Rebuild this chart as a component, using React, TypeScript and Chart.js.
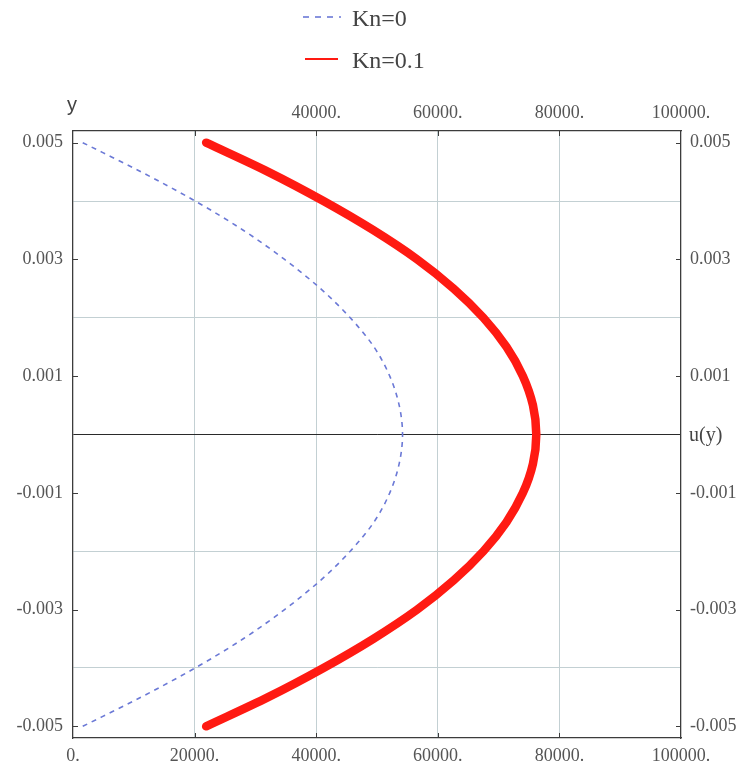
import React, { useEffect, useRef } from "react";
import { Chart, registerables } from "chart.js";

Chart.register(...registerables);

// ---- data ----
const yValues = [
  0.005, 0.0045, 0.004, 0.0035, 0.003, 0.0025, 0.002, 0.0015, 0.001, 0.0005, 0,
  -0.0005, -0.001, -0.0015, -0.002, -0.0025, -0.003, -0.0035, -0.004, -0.0045, -0.005,
];
const uKn0 = [
  1600, 11200, 20100, 28000, 34800, 40700, 45600, 49500, 52100, 53650, 54200,
  53650, 52100, 49500, 45600, 40700, 34800, 28000, 20100, 11200, 1600,
];
const uKn01 = [
  21900, 32100, 41200, 49400, 56600, 62600, 67500, 71300, 74000, 75650, 76200,
  75650, 74000, 71300, 67500, 62600, 56600, 49400, 41200, 32100, 21900,
];
const seriesLabels = ["Kn=0", "Kn=0.1"];

const xTicks = [0, 20000, 40000, 60000, 80000, 100000];
const xBottomLabels = ["0.", "20000.", "40000.", "60000.", "80000.", "100000."];
const xTopLabels = ["", "", "40000.", "60000.", "80000.", "100000."];

const yTicks = [-0.005, -0.004, -0.003, -0.002, -0.001, 0, 0.001, 0.002, 0.003, 0.004, 0.005];
const yTickLabels = ["-0.005", "", "-0.003", "", "-0.001", "", "0.001", "", "0.003", "", "0.005"];

const xTitle = "u(y)";
const yTitle = "y";

// ---- styles ----
const BLUE = "#6b79d6";
const RED = "#ff1a12";
const GRID = "#c3d0d3";
const FRAME = "#3c3c3c";
const TICK_FONT = { family: "'Liberation Serif', serif", size: 18 };
const TICK_COLOR = "#555";

const decorPlugin = {
  id: "decor",
  afterDraw(chart: any) {
    const { ctx, chartArea: a, scales } = chart;
    ctx.save();
    const line = (x1: number, y1: number, x2: number, y2: number) => {
      ctx.beginPath();
      ctx.moveTo(x1, y1);
      ctx.lineTo(x2, y2);
      ctx.stroke();
    };
    // inward tick marks
    ctx.strokeStyle = FRAME;
    ctx.lineWidth = 1;
    yTicks.forEach((v, i) => {
      if (!yTickLabels[i]) return;
      const py = Math.round(scales.y.getPixelForValue(v)) + 0.5;
      line(a.left, py, a.left + 5, py);
      line(a.right, py, a.right - 5, py);
    });
    xTicks.forEach((v, i) => {
      if (i === 0 || i === xTicks.length - 1) return;
      const px = Math.round(scales.x.getPixelForValue(v)) + 0.5;
      line(px, a.bottom, px, a.bottom - 5);
      line(px, a.top, px, a.top + 5);
    });

    // axis titles
    ctx.fillStyle = "#444";
    ctx.font = "20px 'Liberation Sans', sans-serif";
    ctx.textAlign = "center";
    ctx.textBaseline = "alphabetic";
    ctx.fillText(yTitle, a.left - 1, 111);
    ctx.font = "20px 'Liberation Serif', serif";
    ctx.textAlign = "left";
    ctx.textBaseline = "middle";
    ctx.fillText(xTitle, a.right + 8, scales.y.getPixelForValue(0) + 1);

    // legend
    ctx.lineWidth = 1.6;
    ctx.strokeStyle = BLUE;
    ctx.setLineDash([6, 6]);
    line(303, 17, 341, 17);
    ctx.setLineDash([]);
    ctx.strokeStyle = RED;
    ctx.lineWidth = 1.8;
    line(305, 59, 338, 59);
    ctx.fillStyle = "#444";
    ctx.font = "24px 'Liberation Serif', serif";
    ctx.textAlign = "left";
    ctx.textBaseline = "alphabetic";
    ctx.fillText(seriesLabels[0], 352, 26);
    ctx.fillText(seriesLabels[1], 352, 68);
    ctx.restore();
  },
};

export default function App() {
  const ref = useRef<HTMLCanvasElement>(null);
  useEffect(() => {
    if (!ref.current) return;
    const toPts = (us: number[]) => us.map((u, i) => ({ x: u, y: yValues[i] }));
    const chart = new Chart(ref.current, {
      type: "scatter",
      data: {
        datasets: [
          {
            label: seriesLabels[0],
            data: toPts(uKn0),
            showLine: true,
            indexAxis: "y",
            borderColor: BLUE,
            borderWidth: 1.6,
            borderDash: [5, 5],
            pointRadius: 0,
            cubicInterpolationMode: "monotone",
          },
          {
            label: seriesLabels[1],
            data: toPts(uKn01),
            showLine: true,
            indexAxis: "y",
            borderColor: RED,
            borderWidth: 8.5,
            borderCapStyle: "round",
            pointRadius: 0,
            cubicInterpolationMode: "monotone",
          },
        ],
      },
      options: {
        animation: false,
        responsive: false,
        layout: { padding: 0 },
        plugins: { legend: { display: false }, tooltip: { enabled: false } },
        scales: {
          x: {
            type: "linear",
            position: "bottom",
            min: 0,
            max: 100000,
            afterBuildTicks: (s: any) => {
              s.ticks = xTicks.map((v) => ({ value: v }));
            },
            afterFit: (s: any) => {
              s.height = 28;
            },
            ticks: {
              autoSkip: false,
              maxRotation: 0,
              padding: 7,
              font: TICK_FONT,
              color: TICK_COLOR,
              callback: (_v: any, i: number) => xBottomLabels[i],
            },
            grid: {
              drawTicks: false,
              color: (c: any) => (c.index === 0 || c.index === xTicks.length - 1 ? "rgba(0,0,0,0)" : GRID),
              lineWidth: 1,
            },
            border: { display: true, color: FRAME, width: 1.3 },
          },
          x2: {
            type: "linear",
            position: "top",
            min: 0,
            max: 100000,
            afterBuildTicks: (s: any) => {
              s.ticks = xTicks.map((v) => ({ value: v }));
            },
            afterFit: (s: any) => {
              s.height = 131;
            },
            ticks: {
              autoSkip: false,
              maxRotation: 0,
              padding: 7,
              font: TICK_FONT,
              color: TICK_COLOR,
              callback: (_v: any, i: number) => xTopLabels[i],
            },
            grid: { display: false, drawTicks: false },
            border: { display: true, color: FRAME, width: 1.3 },
          },
          y: {
            type: "linear",
            position: "left",
            min: -0.0052,
            max: 0.0052,
            afterBuildTicks: (s: any) => {
              s.ticks = yTicks.map((v) => ({ value: v }));
            },
            afterFit: (s: any) => {
              s.width = 73;
            },
            ticks: {
              autoSkip: false,
              padding: 10,
              font: TICK_FONT,
              color: TICK_COLOR,
              callback: (_v: any, i: number) => yTickLabels[i],
            },
            grid: {
              drawTicks: false,
              color: (c: any) => {
                const i = c.index;
                if (yTickLabels[i]) return "rgba(0,0,0,0)";
                return yTicks[i] === 0 ? "#2a2a2a" : GRID;
              },
              lineWidth: 1,
            },
            border: { display: true, color: FRAME, width: 1.3 },
          },
          y2: {
            type: "linear",
            position: "right",
            min: -0.0052,
            max: 0.0052,
            afterBuildTicks: (s: any) => {
              s.ticks = yTicks.map((v) => ({ value: v }));
            },
            afterFit: (s: any) => {
              s.width = 64;
            },
            ticks: {
              autoSkip: false,
              padding: 9,
              font: TICK_FONT,
              color: TICK_COLOR,
              callback: (_v: any, i: number) => yTickLabels[i],
            },
            grid: { display: false, drawTicks: false },
            border: { display: true, color: FRAME, width: 1.3 },
          },
        },
      } as any,
      plugins: [decorPlugin],
    });
    return () => chart.destroy();
  }, []);

  return (
    <div style={{ position: "absolute", left: 0, top: 0, width: 745, height: 766, background: "#fff" }}>
      <canvas ref={ref} width={745} height={766} style={{ display: "block" }} />
    </div>
  );
}
